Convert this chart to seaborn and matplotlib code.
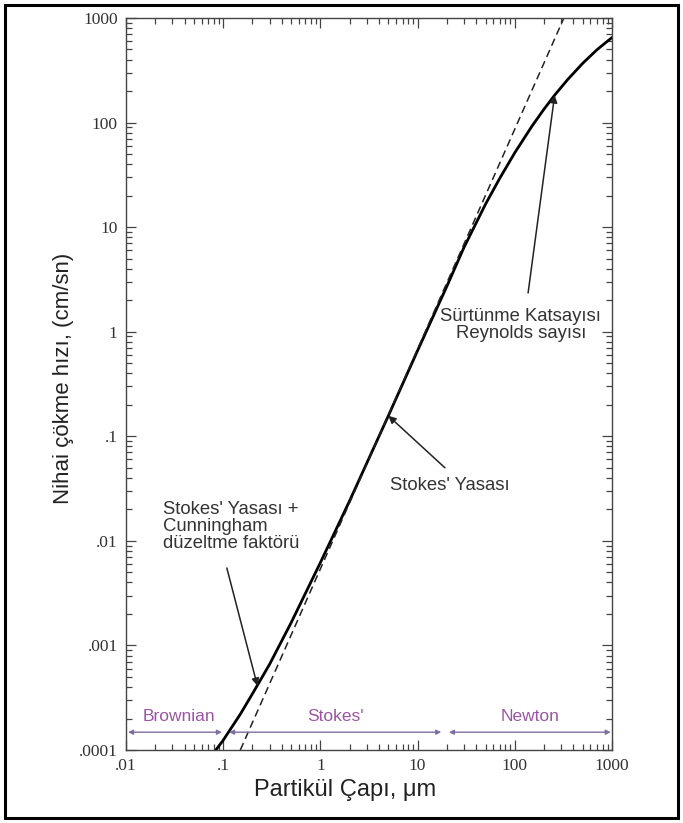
import matplotlib
matplotlib.use("Agg")
import matplotlib.pyplot as plt
import seaborn as sns
import pandas as pd
import numpy as np
from matplotlib.patches import Rectangle
from matplotlib.ticker import FixedLocator, LogLocator, NullFormatter

# ---- data ----
solid_d = [0.084, 0.1, 0.15, 0.2, 0.3, 0.5, 1, 2, 5, 10, 20, 30, 50, 70, 100, 150, 200, 257, 350, 500, 700, 1000]
solid_v = [1e-4, 1.24e-4, 2.2e-4, 3.45e-4, 6.6e-4, 1.65e-3, 6.2e-3, 0.0242, 0.157, 0.66, 2.72, 6.4,
           16.6, 29.3, 51.5, 92.3, 134.6, 183, 258, 369, 497, 651]
dashed_d = [0.15, 320]
dashed_v = [1e-4, 1000]

x_ticks = [0.01, 0.1, 1, 10, 100, 1000]
x_tick_labels = [".01", ".1", "1", "10", "100", "1000"]
y_ticks = [1e-4, 1e-3, 1e-2, 1e-1, 1, 10, 100, 1000]
y_tick_labels = [".0001", ".001", ".01", ".1", "1", "10", "100", "1000"]

regimes = ["Brownian", "Stokes'", "Newton"]
regime_start = [0.0105, 0.115, 21]
regime_end = [0.097, 17.5, 970]
regime_label_x = [0.035, 1.43, 142]

sns.set_style("ticks")
plt.rcParams['font.family'] = ['Liberation Sans', 'DejaVu Sans']

fig = plt.figure(figsize=(6.83, 8.23), dpi=100)
ax = fig.add_axes([126/683, 1-750/823, (612-126)/683, (750-18)/823])

df_solid = pd.DataFrame({"d": solid_d, "v": solid_v})
df_dash = pd.DataFrame({"d": dashed_d, "v": dashed_v})
sns.lineplot(data=df_solid, x="d", y="v", ax=ax, color="black", lw=2.0, sort=False)
sns.lineplot(data=df_dash, x="d", y="v", ax=ax, color="#222222", lw=1.1, sort=False,
             linestyle=(0, (5, 3)))

ax.set_xscale("log")
ax.set_yscale("log")
ax.set_xlim(0.01, 1000)
ax.set_ylim(1e-4, 1000)

ax.xaxis.set_major_locator(FixedLocator(x_ticks))
ax.yaxis.set_major_locator(FixedLocator(y_ticks))
ax.xaxis.set_minor_locator(LogLocator(base=10, subs=np.arange(2, 10)))
ax.yaxis.set_minor_locator(LogLocator(base=10, subs=np.arange(2, 10)))
ax.xaxis.set_minor_formatter(NullFormatter())
ax.yaxis.set_minor_formatter(NullFormatter())
ax.set_xticklabels(x_tick_labels, family="Liberation Serif", fontsize=12.5, color="#333333")
ax.set_yticklabels(y_tick_labels, family="Liberation Serif", fontsize=12.5, color="#333333")
ax.tick_params(which="both", direction="in", top=True, right=True, color="#444444", width=0.9)
ax.tick_params(which="major", length=7, pad=6)
ax.tick_params(which="minor", length=4.5)
for s in ax.spines.values():
    s.set_color("#444444")
    s.set_linewidth(1.0)

ax.set_xlabel("Partikül Çapı, μm", fontsize=17, color="#222222", va="center")
ax.xaxis.set_label_coords((345-126)/486, (750-790)/732)
ax.set_ylabel("Nihai çökme hızı, (cm/sn)", fontsize=16, color="#222222", va="center")
ax.yaxis.set_label_coords((63-126)/486, (750-378)/732)

# regime arrows
arrow_y = 1.48e-4
label_y = 2.1e-4
for name, x0, x1, xl in zip(regimes, regime_start, regime_end, regime_label_x):
    ax.annotate("", xy=(x1, arrow_y), xytext=(x0, arrow_y),
                arrowprops=dict(arrowstyle="<|-|>", color="#7f6fa0", lw=1.0,
                                mutation_scale=7, shrinkA=0, shrinkB=0))
    ax.text(xl, label_y, name, color="#9b55a3", fontsize=12.5, ha="center", va="center")

# annotations
tc = "#333333"
ac = "#222222"
ax.text(0.024, 0.024, "Stokes' Yasası +\nCunningham\ndüzeltme faktörü", ha="left", va="top",
        fontsize=13.3, color=tc, linespacing=1.0)
ax.annotate("", xy=(0.225, 4.1e-4), xytext=(0.109, 5.5e-3),
            arrowprops=dict(arrowstyle="-|>", color=ac, lw=1.1, mutation_scale=11,
                            shrinkA=0, shrinkB=0))

ax.text(21.5, 0.041, "Stokes' Yasası", ha="center", va="top", fontsize=13.3, color=tc)
ax.annotate("", xy=(5.0, 0.157), xytext=(19.1, 0.05),
            arrowprops=dict(arrowstyle="-|>", color=ac, lw=1.1, mutation_scale=11,
                            shrinkA=0, shrinkB=0))

ax.text(115, 1.15, "Sürtünme Katsayısı\nReynolds sayısı", ha="center", va="center",
        fontsize=13.3, color=tc, linespacing=1.0)
ax.annotate("", xy=(257, 183), xytext=(137, 2.35),
            arrowprops=dict(arrowstyle="-|>", color=ac, lw=1.1, mutation_scale=11,
                            shrinkA=0, shrinkB=0))

# outer frame
fig.patches.append(Rectangle((5/683, 5/823), 673/683, 813/823, transform=fig.transFigure,
                             fill=False, edgecolor="black", lw=2.2))

fig.savefig("out.png", dpi=100)
